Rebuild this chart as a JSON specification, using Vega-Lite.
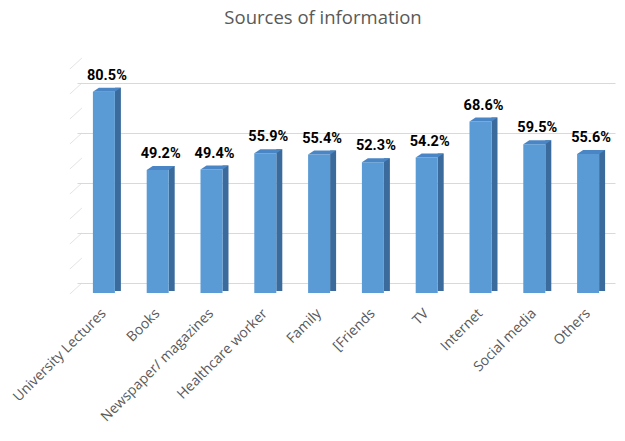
{
  "$schema": "https://vega.github.io/schema/vega-lite/v6.json",
  "width": 538,
  "height": 225,
  "autosize": {"type": "none"},
  "padding": {"left": 77, "top": 58, "right": 10, "bottom": 158},
  "background": "white",
  "title": {"text": "Sources of information", "fontSize": 18.5, "font": "Open Sans", "fontWeight": "normal", "color": "#595959", "offset": 29, "dx": -23, "anchor": "middle"},
  "config": {
    "view": {"stroke": null},
    "axisY": {"grid": true, "gridColor": "#d9d9d9", "domain": false, "ticks": false, "labels": false, "title": null, "values": [0, 0.1, 0.2, 0.3, 0.4, 0.5, 0.6, 0.7, 0.8, 0.9]},
    "axisX": {"domain": false, "ticks": false, "title": null, "labelAngle": -45, "labelAlign": "right", "labelBaseline": "middle", "labelPadding": 28, "labelFont": "Open Sans", "labelFontSize": 14, "labelColor": "#595959", "labelLimit": 300}
  },
  "datasets": {
    "src": [
      {"source": "University Lectures", "pct": 0.805},
      {"source": "Books", "pct": 0.492},
      {"source": "Newspaper/ magazines", "pct": 0.494},
      {"source": "Healthcare worker", "pct": 0.559},
      {"source": "Family", "pct": 0.554},
      {"source": "[Friends", "pct": 0.523},
      {"source": "TV", "pct": 0.542},
      {"source": "Internet", "pct": 0.686},
      {"source": "Social media", "pct": 0.595},
      {"source": "Others", "pct": 0.556}
    ],
    "grid": [
      {"v": 0}, {"v": 0.1}, {"v": 0.2}, {"v": 0.3}, {"v": 0.4},
      {"v": 0.5}, {"v": 0.6}, {"v": 0.7}, {"v": 0.8}, {"v": 0.9}
    ]
  },
  "layer": [
    {
      "data": {"name": "grid"},
      "mark": {"type": "point", "shape": "M -6 11 L 6 0", "size": 4, "filled": false, "stroke": "#d9d9d9", "strokeWidth": 1, "xOffset": -28},
      "encoding": {
        "x": {"datum": "University Lectures", "type": "nominal"},
        "y": {"field": "v", "type": "quantitative", "scale": {"domain": [0, 0.9], "nice": false}}
      }
    },
    {
      "data": {"name": "src"},
      "mark": {"type": "bar", "width": 6, "xOffset": 14, "yOffset": 6, "y2Offset": 8, "color": "#3A6B9C"},
      "encoding": {
        "x": {"field": "source", "type": "nominal", "sort": null},
        "y": {"field": "pct", "type": "quantitative"},
        "y2": {"datum": 0}
      }
    },
    {
      "data": {"name": "src"},
      "mark": {"type": "bar", "width": 22, "yOffset": 10, "y2Offset": 10, "color": "#5B9BD5"},
      "encoding": {
        "x": {"field": "source", "type": "nominal", "sort": null},
        "y": {"field": "pct", "type": "quantitative"},
        "y2": {"datum": 0}
      }
    },
    {
      "data": {"name": "src"},
      "mark": {"type": "point", "shape": "M -11 0 L 11 0 L 17 -4 L -5 -4 Z", "size": 4, "filled": true, "color": "#4A86C5", "opacity": 1, "strokeWidth": 0, "yOffset": 10},
      "encoding": {
        "x": {"field": "source", "type": "nominal", "sort": null},
        "y": {"field": "pct", "type": "quantitative"}
      }
    },
    {
      "data": {"name": "src"},
      "mark": {"type": "text", "yOffset": -2, "dx": 3, "baseline": "alphabetic", "font": "Roboto", "fontWeight": "bold", "fontSize": 14.5, "color": "#000000"},
      "encoding": {
        "x": {"field": "source", "type": "nominal", "sort": null},
        "y": {"field": "pct", "type": "quantitative"},
        "text": {"field": "pct", "type": "quantitative", "format": ".1%"}
      }
    }
  ]
}
